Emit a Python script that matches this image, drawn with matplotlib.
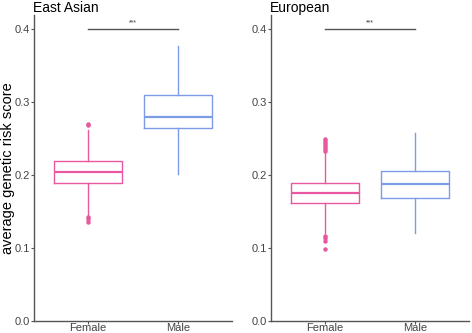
import matplotlib
matplotlib.use("Agg")
import matplotlib.pyplot as plt

plt.rcParams['font.family'] = ['Liberation Sans', 'DejaVu Sans']

groups = ["Female", "Male"]
panels = ["East Asian", "European"]

# box statistics: [q1, median, q3, whisker_low, whisker_high]
ea_female = [0.189, 0.204, 0.219, 0.144, 0.261]
ea_male = [0.264, 0.280, 0.310, 0.201, 0.377]
eu_female = [0.161, 0.175, 0.1895, 0.121, 0.230]
eu_male = [0.168, 0.187, 0.205, 0.121, 0.257]

ea_female_out = [0.268, 0.270, 0.142, 0.139, 0.136]
ea_male_out = []
eu_female_out = [0.233, 0.236, 0.238, 0.241, 0.244, 0.247, 0.249,
                 0.117, 0.113, 0.109, 0.098]
eu_male_out = []

sig_label = "***"
sig_y = 0.40

colors = ["#E8579F", "#7C9CE6"]

fig = plt.figure(figsize=(4.72, 3.33), dpi=100)
axes = [fig.add_axes([0.072, 0.036, 0.4195, 0.919]),
        fig.add_axes([0.5735, 0.036, 0.4201, 0.919])]

data = [(ea_female, ea_male, ea_female_out, ea_male_out),
        (eu_female, eu_male, eu_female_out, eu_male_out)]

for ax, title, (f, m, fo, mo) in zip(axes, panels, data):
    for i, (st, out) in enumerate([(f, fo), (m, mo)]):
        stats = [dict(q1=st[0], med=st[1], q3=st[2], whislo=st[3],
                      whishi=st[4], fliers=out)]
        c = colors[i]
        ax.bxp(stats, positions=[i + 1], widths=0.75, showcaps=False,
               boxprops=dict(color=c, linewidth=1.0),
               whiskerprops=dict(color=c, linewidth=1.0),
               medianprops=dict(color=c, linewidth=1.6),
               flierprops=dict(marker='o', markersize=2.2,
                               markerfacecolor=c, markeredgecolor=c))
    ax.plot([1, 2], [sig_y, sig_y], color="#555555", lw=1.0)
    ax.text(1.5, sig_y + 0.003, sig_label, ha='center', va='bottom',
            fontsize=5, color="#333333")
    ax.set_xlim(0.4, 2.6)
    ax.set_ylim(0.0, 0.419)
    ax.set_xticks([1, 2])
    ax.set_xticklabels(groups)
    ax.set_yticks([0.0, 0.1, 0.2, 0.3, 0.4])
    ax.set_yticklabels(["0.0", "0.1", "0.2", "0.3", "0.4"])
    for s in ["top", "right"]:
        ax.spines[s].set_visible(False)
    for s in ["left", "bottom"]:
        ax.spines[s].set_color("#555555")
        ax.spines[s].set_linewidth(1.0)
    ax.tick_params(axis='both', colors="#555555", length=2, width=0.8,
                   labelsize=8, labelcolor="#444444")
    ax.tick_params(axis='x', pad=-0.5)
    ax.tick_params(axis='y', pad=1)
    ax.set_title(title, loc='left', fontsize=10, pad=2, x=-0.005)

axes[0].set_ylabel("average genetic risk score", fontsize=10.5)
axes[0].yaxis.set_label_coords(-0.094, 0.5)

fig.savefig("out.png", dpi=100)
